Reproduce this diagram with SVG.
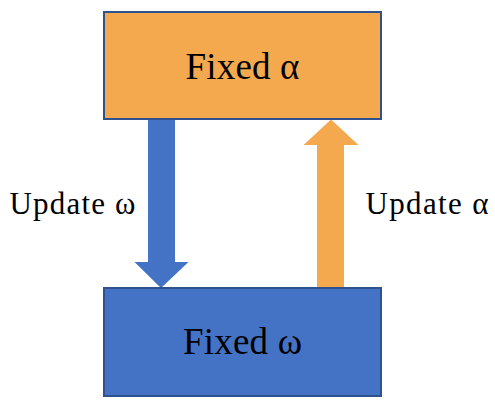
<svg xmlns="http://www.w3.org/2000/svg" width="495" height="406" viewBox="0 0 495 406">
<style>
.box{stroke:#2F528F;stroke-width:2}
.orange{fill:#F4A94F}
.blue{fill:#4472C4}
text{font-family:'Liberation Serif','Times New Roman',serif;fill:#000}
.big{font-size:37px}
.small{font-size:31px}
</style>
<rect width="495" height="406" fill="#fff"/>
<g id="connectors">
<g id="update-omega">
<polygon class="blue" points="148,117 175,117 175,262 188.5,262 161,288 134.5,262 148,262"/>
<text class="small" x="9.5" y="213.5" textLength="126">Update ω</text>
</g>
<g id="update-alpha">
<polygon class="orange" points="317,288 344,288 344,145 358.5,145 331,119.5 303.5,145 317,145"/>
<text class="small" x="365.5" y="213.5" textLength="123">Update α</text>
</g>
</g>
<g id="fixed-alpha">
<rect class="box orange" x="104" y="12" width="277" height="107"/>
<text class="big" x="185.5" y="79" textLength="114">Fixed α</text>
</g>
<g id="fixed-omega">
<rect class="box blue" x="104" y="288" width="277" height="108"/>
<text class="big" x="183" y="354" textLength="119">Fixed ω</text>
</g>
</svg>
